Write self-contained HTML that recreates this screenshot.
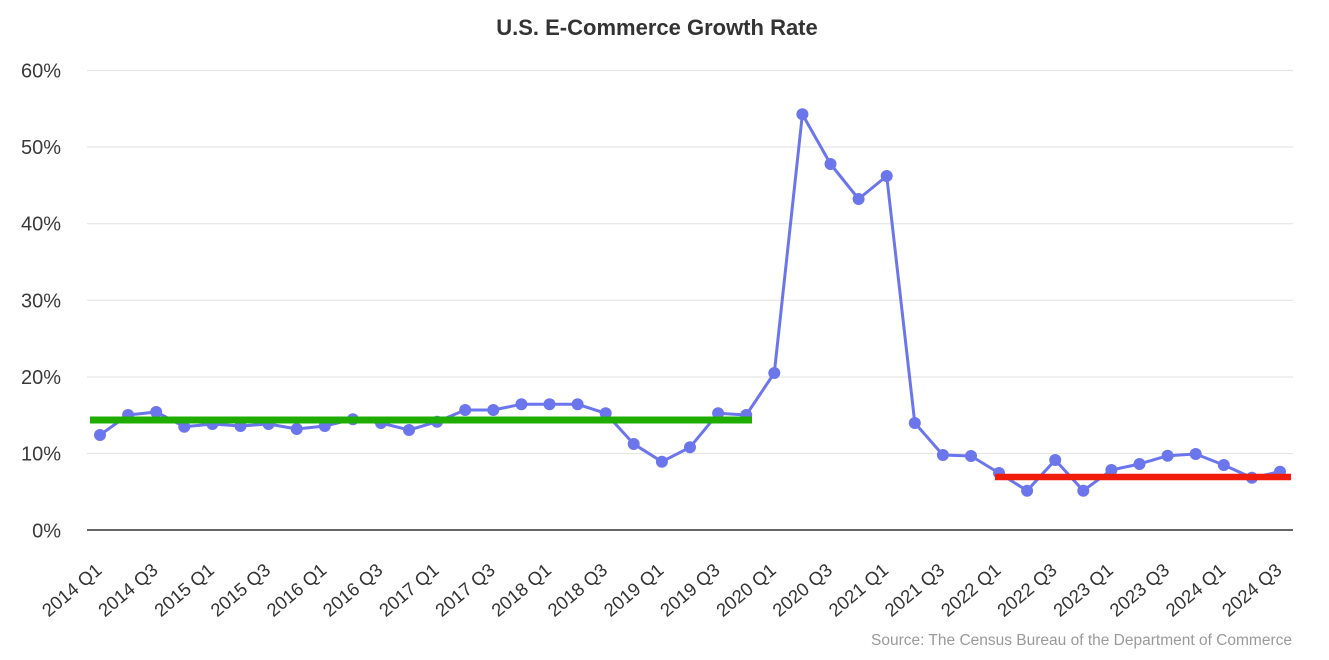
<!DOCTYPE html>
<html>
<head>
<meta charset="utf-8">
<style>
html,body{margin:0;padding:0;background:#fff;}
svg{display:block;}
text{font-family:"Liberation Sans",Arial,sans-serif;}
</style>
</head>
<body>
<svg width="1329" height="660" viewBox="0 0 1329 660" xmlns="http://www.w3.org/2000/svg">
<rect width="1329" height="660" fill="#fff"/>
<text x="657" y="35" text-anchor="middle" font-size="22" font-weight="bold" fill="#333">U.S. E-Commerce Growth Rate</text>
<!-- gridlines -->
<g stroke="#e6e6e6" stroke-width="1.2">
<line x1="87" y1="70.5" x2="1293" y2="70.5"/>
<line x1="87" y1="147" x2="1293" y2="147"/>
<line x1="87" y1="223.7" x2="1293" y2="223.7"/>
<line x1="87" y1="300.3" x2="1293" y2="300.3"/>
<line x1="87" y1="377" x2="1293" y2="377"/>
<line x1="87" y1="453.5" x2="1293" y2="453.5"/>
</g>
<line x1="87" y1="530" x2="1293" y2="530" stroke="#333" stroke-width="1.6"/>
<g font-size="20" fill="#3a3a3a" text-anchor="end">
<text x="61" y="77.5">60%</text>
<text x="61" y="154">50%</text>
<text x="61" y="230.7">40%</text>
<text x="61" y="307.3">30%</text>
<text x="61" y="384">20%</text>
<text x="61" y="460.7">10%</text>
<text x="61" y="537.3">0%</text>
</g>
<!-- x labels -->
<g font-size="18.5" fill="#333" text-anchor="end">
<text transform="translate(103,572) rotate(-40)">2014 Q1</text>
<text transform="translate(159.2,572) rotate(-40)">2014 Q3</text>
<text transform="translate(215.4,572) rotate(-40)">2015 Q1</text>
<text transform="translate(271.6,572) rotate(-40)">2015 Q3</text>
<text transform="translate(327.8,572) rotate(-40)">2016 Q1</text>
<text transform="translate(383.9,572) rotate(-40)">2016 Q3</text>
<text transform="translate(440.1,572) rotate(-40)">2017 Q1</text>
<text transform="translate(496.3,572) rotate(-40)">2017 Q3</text>
<text transform="translate(552.5,572) rotate(-40)">2018 Q1</text>
<text transform="translate(608.7,572) rotate(-40)">2018 Q3</text>
<text transform="translate(664.9,572) rotate(-40)">2019 Q1</text>
<text transform="translate(721.1,572) rotate(-40)">2019 Q3</text>
<text transform="translate(777.3,572) rotate(-40)">2020 Q1</text>
<text transform="translate(833.5,572) rotate(-40)">2020 Q3</text>
<text transform="translate(889.7,572) rotate(-40)">2021 Q1</text>
<text transform="translate(945.8,572) rotate(-40)">2021 Q3</text>
<text transform="translate(1002,572) rotate(-40)">2022 Q1</text>
<text transform="translate(1058.2,572) rotate(-40)">2022 Q3</text>
<text transform="translate(1114.4,572) rotate(-40)">2023 Q1</text>
<text transform="translate(1170.6,572) rotate(-40)">2023 Q3</text>
<text transform="translate(1226.8,572) rotate(-40)">2024 Q1</text>
<text transform="translate(1283,572) rotate(-40)">2024 Q3</text>
</g>
<!-- series -->
<polyline fill="none" stroke="#6c76ec" stroke-width="3" stroke-linejoin="round" points="
100,435 128.1,415 156.2,412 184.3,426.7 212.4,424 240.5,426 268.6,424 296.7,429 324.8,426 352.9,419.3
381,423 409,430 437.1,421.7 465.2,410 493.3,410 521.4,404.3 549.5,404.3 577.6,404.3 605.7,413.3 633.7,444
661.9,461.7 690,447.3 718.1,413.3 746.2,415 774.3,373 802.4,114.3 830.5,164 858.6,199 886.7,176 914.8,423
942.9,455 971,456 999,473 1027.1,490.7 1055.2,460 1083.3,490.7 1111.4,470 1139.5,464 1167.6,455.7 1195.7,454
1223.8,465 1251.9,477.7 1280,471.7"/>
<g fill="#6c76ec">
<circle cx="100" cy="435" r="6"/><circle cx="128.1" cy="415" r="6"/><circle cx="156.2" cy="412" r="6"/><circle cx="184.3" cy="426.7" r="6"/><circle cx="212.4" cy="424" r="6"/><circle cx="240.5" cy="426" r="6"/><circle cx="268.6" cy="424" r="6"/><circle cx="296.7" cy="429" r="6"/><circle cx="324.8" cy="426" r="6"/><circle cx="352.9" cy="419.3" r="6"/>
<circle cx="381" cy="423" r="6"/><circle cx="409" cy="430" r="6"/><circle cx="437.1" cy="421.7" r="6"/><circle cx="465.2" cy="410" r="6"/><circle cx="493.3" cy="410" r="6"/><circle cx="521.4" cy="404.3" r="6"/><circle cx="549.5" cy="404.3" r="6"/><circle cx="577.6" cy="404.3" r="6"/><circle cx="605.7" cy="413.3" r="6"/><circle cx="633.7" cy="444" r="6"/>
<circle cx="661.9" cy="461.7" r="6"/><circle cx="690" cy="447.3" r="6"/><circle cx="718.1" cy="413.3" r="6"/><circle cx="746.2" cy="415" r="6"/><circle cx="774.3" cy="373" r="6"/><circle cx="802.4" cy="114.3" r="6"/><circle cx="830.5" cy="164" r="6"/><circle cx="858.6" cy="199" r="6"/><circle cx="886.7" cy="176" r="6"/><circle cx="914.8" cy="423" r="6"/>
<circle cx="942.9" cy="455" r="6"/><circle cx="971" cy="456" r="6"/><circle cx="999" cy="473" r="6"/><circle cx="1027.1" cy="490.7" r="6"/><circle cx="1055.2" cy="460" r="6"/><circle cx="1083.3" cy="490.7" r="6"/><circle cx="1111.4" cy="470" r="6"/><circle cx="1139.5" cy="464" r="6"/><circle cx="1167.6" cy="455.7" r="6"/><circle cx="1195.7" cy="454" r="6"/>
<circle cx="1223.8" cy="465" r="6"/><circle cx="1251.9" cy="477.7" r="6"/><circle cx="1280" cy="471.7" r="6"/>
</g>
<!-- average lines -->
<line x1="90" y1="420" x2="752" y2="420" stroke="#1fae00" stroke-width="7"/>
<line x1="995" y1="477" x2="1291" y2="477" stroke="#f01c0c" stroke-width="6.5"/>
<text x="1292" y="645" text-anchor="end" font-size="15.5" fill="#9a9a9a">Source: The Census Bureau of the Department of Commerce</text>
</svg>
</body>
</html>
